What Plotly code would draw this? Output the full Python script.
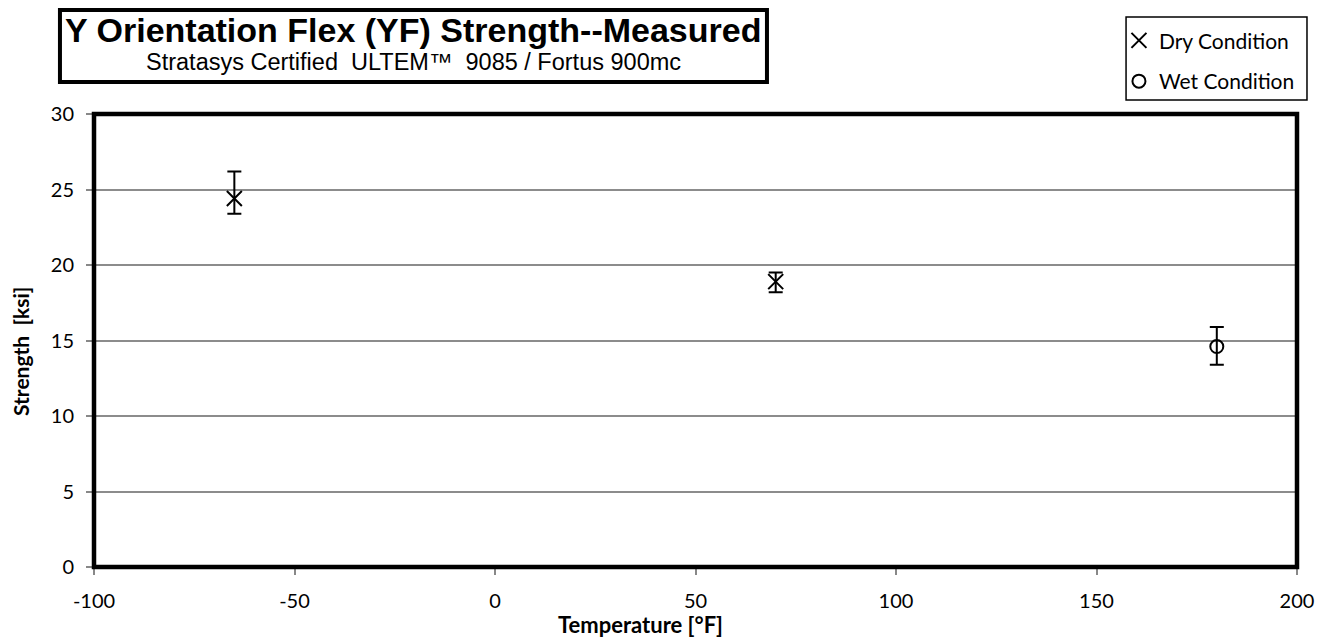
import plotly.graph_objects as go

# Data
dry_temp = [-65, 70]
dry_strength = [24.4, 18.9]
dry_err_plus = [1.8, 0.6]
dry_err_minus = [1.0, 0.7]

wet_temp = [180]
wet_strength = [14.6]
wet_err_plus = [1.3]
wet_err_minus = [1.2]

x_ticks = [-100, -50, 0, 50, 100, 150, 200]
x_tick_text = ["-100", "-50", "0", "50", "100", "150", "200"]
y_ticks = [0, 5, 10, 15, 20, 25, 30]

AXFONT = "Lato, Carlito, Calibri, sans-serif"

fig = go.Figure()
fig.add_trace(go.Scatter(
    x=dry_temp, y=dry_strength, mode="markers", name="Dry Condition",
    marker=dict(symbol="x-thin-open", size=15, color="black", line=dict(width=2, color="black")),
    error_y=dict(type="data", array=dry_err_plus, arrayminus=dry_err_minus,
                 color="black", thickness=2, width=7),
    legend="legend",
))
fig.add_trace(go.Scatter(
    x=wet_temp, y=wet_strength, mode="markers", name="Wet Condition",
    marker=dict(symbol="circle-open", size=13, color="black", line=dict(width=2, color="black")),
    error_y=dict(type="data", array=wet_err_plus, arrayminus=wet_err_minus,
                 color="black", thickness=2, width=7),
    legend="legend2",
))

fig.update_layout(
    width=1341, height=639,
    margin=dict(l=86, r=52, t=106, b=80, autoexpand=False),
    paper_bgcolor="white", plot_bgcolor="white",
    showlegend=True,
    legend=dict(x=0.852, y=1.207, xanchor="left", yanchor="top",
                font=dict(family=AXFONT, size=21, color="black"),
                bgcolor="rgba(0,0,0,0)", borderwidth=0, itemwidth=30),
    legend2=dict(x=0.852, y=1.117, xanchor="left", yanchor="top",
                 font=dict(family=AXFONT, size=21, color="black"),
                 bgcolor="rgba(0,0,0,0)", borderwidth=0, itemwidth=30),
    xaxis=dict(range=[-100, 200], tickvals=x_ticks, ticktext=x_tick_text, showgrid=False, zeroline=False,
               showline=True, linecolor="#888888", linewidth=2,
               ticks="outside", tickcolor="#888888", ticklen=6, tickwidth=2,
               ticklabelstandoff=9,
               tickfont=dict(family=AXFONT, size=20, color="black")),
    yaxis=dict(range=[0, 30], tickvals=y_ticks, showgrid=True, gridcolor="#8c8c8c", gridwidth=1.5,
               zeroline=False, showline=True, linecolor="#888888", linewidth=2,
               ticks="outside", tickcolor="#888888", ticklen=6, tickwidth=2,
               ticklabelstandoff=8,
               tickfont=dict(family=AXFONT, size=20, color="black")),
    shapes=[
        dict(type="rect", xref="paper", yref="paper", x0=0, x1=1, y0=0, y1=1,
             line=dict(color="black", width=4.5), layer="above"),
        dict(type="rect", xref="paper", yref="paper", x0=-0.0283, x1=0.5594, y0=1.0707, y1=1.2296,
             line=dict(color="black", width=4), fillcolor="white"),
        dict(type="rect", xref="paper", yref="paper", x0=0.8579, x1=1.0083, y0=1.0309, y1=1.2141,
             line=dict(color="black", width=1.5)),
    ],
    annotations=[
        dict(text="<b>Y Orientation Flex (YF) Strength--Measured</b>", xref="paper", yref="paper",
             x=0.2655, y=1.186, xanchor="center", yanchor="middle", showarrow=False,
             font=dict(family="Liberation Sans, Arial, sans-serif", size=34, color="black")),
        dict(text="Stratasys Certified  ULTEM™  9085 / Fortus 900mc", xref="paper", yref="paper",
             x=0.2655, y=1.115, xanchor="center", yanchor="middle", showarrow=False,
             font=dict(family="Liberation Sans, Arial, sans-serif", size=23.5, color="black")),
        dict(text="<b>Temperature [°F]</b>", xref="paper", yref="paper",
             x=0.4539, y=-0.128, xanchor="center", yanchor="middle", showarrow=False,
             font=dict(family=AXFONT, size=22, color="black")),
        dict(text="<b>Strength  [ksi]</b>", xref="paper", yref="paper", textangle=-90,
             x=-0.0615, y=0.4746, xanchor="center", yanchor="middle", showarrow=False,
             font=dict(family=AXFONT, size=21, color="black")),
    ],
)

fig.write_html("out.html")
